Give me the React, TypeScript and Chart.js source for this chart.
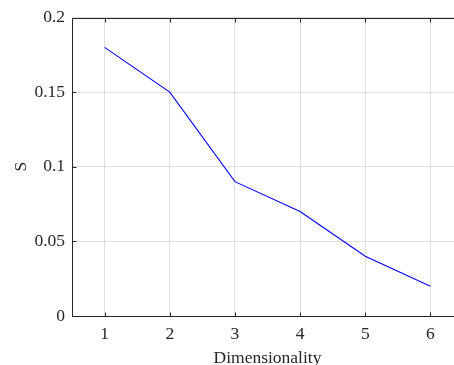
import React, { useEffect, useRef } from "react";
import { Chart, registerables } from "chart.js";
Chart.register(...registerables);

const dims = [1, 2, 3, 4, 5, 6];
const sValues = [0.18, 0.15, 0.09, 0.07, 0.04, 0.02];
const xTicks = [1, 2, 3, 4, 5, 6];
const yTicks = [0, 0.05, 0.1, 0.15, 0.2];
const yTickLabels = ["0", "0.05", "0.1", "0.15", "0.2"];
const xTitle = "Dimensionality";
const yTitle = "S";

const FONT = "'Liberation Serif', 'Times New Roman', serif";
const FS = 17.5;
const AXIS = "#262626";
const GRID = "rgba(38,38,38,0.15)";

const boxPlugin = {
  id: "matlabBox",
  afterDraw(chart: any) {
    const { ctx, chartArea, scales } = chart;
    const { left, top, right, bottom } = chartArea;
    ctx.save();
    ctx.strokeStyle = AXIS;
    ctx.lineWidth = 1;
    ctx.beginPath();
    const L = Math.round(left) + 0.5;
    const T = Math.round(top) + 0.5;
    const B = Math.round(bottom) + 0.5;
    const R = Math.round(right) + 0.5;
    ctx.moveTo(R, T);
    ctx.lineTo(L, T);
    ctx.lineTo(L, B);
    ctx.lineTo(R, B);
    const tl = 4;
    scales.x.ticks.forEach((t: any) => {
      const px = Math.round(scales.x.getPixelForValue(t.value)) + 0.5;
      ctx.moveTo(px, B);
      ctx.lineTo(px, B - tl);
      ctx.moveTo(px, T);
      ctx.lineTo(px, T + tl);
    });
    scales.y.ticks.forEach((t: any) => {
      const py = Math.round(scales.y.getPixelForValue(t.value)) + 0.5;
      ctx.moveTo(L, py);
      ctx.lineTo(L + tl, py);
    });
    ctx.stroke();
    ctx.restore();
  },
};

export default function App() {
  const ref = useRef<HTMLCanvasElement | null>(null);
  useEffect(() => {
    document.body.style.margin = "0";
    const chart = new Chart(ref.current as HTMLCanvasElement, {
      type: "line",
      data: {
        datasets: [
          {
            data: dims.map((d, i) => ({ x: d, y: sValues[i] })),
            borderColor: "#0000ff",
            borderWidth: 1.1,
            pointRadius: 0,
            fill: false,
            tension: 0,
          },
        ],
      },
      options: {
        responsive: false,
        animation: false,
        events: [],
        layout: { padding: { left: 0, right: 37, top: 14.5, bottom: 0 } },
        plugins: { legend: { display: false }, tooltip: { enabled: false } },
        scales: {
          x: {
            type: "linear",
            min: 0.5,
            max: 6.5,
            afterBuildTicks: (s: any) => {
              s.ticks = xTicks.map((v) => ({ value: v }));
            },
            afterFit: (s: any) => {
              s.height = 49;
            },
            grid: { color: GRID, drawTicks: false, lineWidth: 1 },
            border: { display: false },
            ticks: {
              color: AXIS,
              padding: 8,
              font: { family: FONT, size: FS },
              callback: (v: any) => String(v),
              maxRotation: 0,
            },
            title: {
              display: true,
              text: xTitle,
              color: AXIS,
              font: { family: FONT, size: FS, lineHeight: 0.8 },
              padding: { top: 0, bottom: 0 },
            },
          },
          y: {
            type: "linear",
            min: 0,
            max: 0.2,
            afterBuildTicks: (s: any) => {
              s.ticks = yTicks.map((v) => ({ value: v }));
            },
            afterFit: (s: any) => {
              s.width = 72;
            },
            grid: { color: GRID, drawTicks: false, lineWidth: 1 },
            border: { display: false },
            ticks: {
              color: AXIS,
              padding: 7,
              font: { family: FONT, size: FS },
              callback: (_v: any, i: number) => yTickLabels[i],
            },
            title: {
              display: true,
              text: yTitle,
              color: AXIS,
              font: { family: FONT, size: FS, lineHeight: 1 },
              padding: { top: 13, bottom: 0 },
            },
          },
        },
      },
      plugins: [boxPlugin],
    } as any);
    return () => chart.destroy();
  }, []);
  return (
    <div
      style={{
        position: "fixed",
        left: 0,
        top: 0,
        width: 454,
        height: 365,
        overflow: "hidden",
        background: "#fff",
      }}
    >
      <canvas ref={ref} width={500} height={365} style={{ width: 500, height: 365, display: "block" }} />
    </div>
  );
}
